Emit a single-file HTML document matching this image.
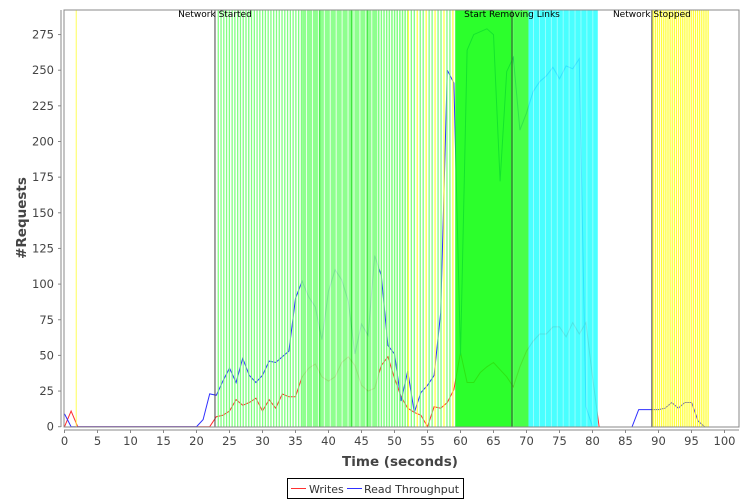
<!DOCTYPE html>
<html><head><meta charset="utf-8"><style>
body{margin:0;background:#fff;font-family:"DejaVu Sans","Liberation Sans",sans-serif;}
#wrap{position:relative;width:750px;height:500px;overflow:hidden}
</style></head><body>
<div id="wrap">
<svg id="svg" width="750" height="500" xmlns="http://www.w3.org/2000/svg"></svg>
</div>
<script>
// data (1-second samples)
const readThroughput = [9,0,0,0,0,0,0,0,0,0,0,0,0,0,0,0,0,0,0,0,0,5,23,22,32,41,31,48,36,31,36,46,45,49,53,90,102,91,84,61,95,110,103,88,51,72,64,120,106,57,51,18,39,10,24,29,36,80,250,241,50,264,275,277,279,275,172,249,259,208,220,235,242,246,252,244,253,251,258,14,0,null,null,null,null,null,0,12,12,12,12,13,17,13,17,17,4,0];
const writes = [0,11,0,0,0,0,0,0,0,0,0,0,0,0,0,0,0,0,0,0,0,0,0,7,8,11,19,15,17,20,11,19,13,23,21,21,35,41,44,35,32,35,45,49,43,29,25,27,43,49,34,21,13,10,8,0,14,13,17,26,52,31,31,38,42,45,40,35,28,42,53,60,65,65,70,70,63,73,65,73,35,0];
const yTicks = [0,25,50,75,100,125,150,175,200,225,250,275];
const xTicks = [0,5,10,15,20,25,30,35,40,45,50,55,60,65,70,75,80,85,90,95,100];
const events = [{t:22.8,label:"Network Started"},{t:67.8,label:"Start Removing Links"},{t:89.0,label:"Network Stopped"}];

const NS="http://www.w3.org/2000/svg";
const svg=document.getElementById('svg');
const X0=64.5,XS=6.6,Y0=426.7,YS=1.426;
const PL=64,PR=739,PT=10,PB=427;
const sx=t=>X0+t*XS, sy=v=>Y0-v*YS;
function el(tag,attrs,parent){const e=document.createElementNS(NS,tag);for(const k in attrs)e.setAttribute(k,attrs[k]);(parent||svg).appendChild(e);return e;}

const bg=el('rect',{x:PL,y:PT,width:PR-PL,height:PB-PT,fill:'#fff'});



function series(arr,color,name){
  let segs=[],cur=[];
  arr.forEach((v,i)=>{if(v===null){if(cur.length)segs.push(cur);cur=[];}else cur.push(sx(i).toFixed(1)+','+sy(v).toFixed(1));});
  if(cur.length)segs.push(cur);
  segs.forEach(s=>{
    const p=el('polyline',{points:s.join(' '),fill:'none',stroke:color,'stroke-width':1});
    
    
  });
}
series(writes,'#ff3030','writes-line');
series(readThroughput,'#3030ff','read-throughput-line');

const g=el('g',{opacity:0.88});


function stripe(t,c,w){el('rect',{x:sx(t),y:PT,width:w||1,height:PB-PT,fill:c},g);}
function block(t1,t2,c){el('rect',{x:sx(t1),y:PT,width:sx(t2)-sx(t1),height:PB-PT,fill:c},g);}
stripe(1.7,'#ffff40');
for(let t=23.2;t<36;t+=0.42) stripe(t,'#70ff70',1.3);
block(36,47.5,'#80ff80');
for(let t=36.6;t<47.5;t+=0.9) stripe(t,'#ffffff',0.8);
stripe(38.6,'#20e020',1);stripe(43.4,'#20e020',1);stripe(45.8,'#20e020',1);
for(let t=47.5;t<52;t+=0.4) stripe(t,'#70ff70',1.5);
for(let t=52;t<59.2;t+=0.45){const k=Math.round((t-52)/0.45)%3;stripe(t,k===0?'#ffff30':'#70ff70',1.3);}
block(59.2,68,'#10ff10');
block(68,70.3,'#30ff30');
block(70.3,80.8,'#30ffff');
for(let t=71;t<80.6;t+=0.9) stripe(t,'#aaffff',0.7);
for(let t=89.1;t<97.6;t+=0.32) stripe(t,'#ffff20',1.3);

events.forEach(e=>{
  const l=el('line',{x1:sx(e.t),x2:sx(e.t),y1:PT,y2:PB,stroke:'#444','stroke-width':1});
  
  
  const tx=el('text',{x:sx(e.t),y:PT+7,'text-anchor':'middle','font-size':9,fill:'#000'});
  tx.textContent=e.label;
  
  
});

el('rect',{x:PL,y:PT,width:PR-PL,height:PB-PT,fill:'none',stroke:'#888','stroke-width':1});
const ya=el('line',{x1:61,x2:61,y1:PT,y2:PB,stroke:'#888'});


const xa=el('line',{x1:PL,x2:PR,y1:430,y2:430,stroke:'#888'});


yTicks.forEach(v=>{
  el('line',{x1:58,x2:61,y1:sy(v),y2:sy(v),stroke:'#888'});
  const t=el('text',{x:54,y:sy(v)+4,'text-anchor':'end','font-size':11.5,fill:'#444'});
  t.textContent=v;
  
  
});
xTicks.forEach(v=>{
  el('line',{x1:sx(v),x2:sx(v),y1:430,y2:433,stroke:'#888'});
  const t=el('text',{x:sx(v),y:445,'text-anchor':'middle','font-size':11.5,fill:'#444'});
  t.textContent=v;
  
  
});
const xt=el('text',{x:400,y:466,'text-anchor':'middle','font-size':13.5,'font-weight':'bold',fill:'#444'});
xt.textContent='Time (seconds)';


const yt=el('text',{x:0,y:0,'text-anchor':'middle','font-size':13.5,'font-weight':'bold',fill:'#444',transform:'translate(26,218) rotate(-90)'});
yt.textContent='#Requests';



const lg=el('g',{});


el('rect',{x:287.5,y:478.5,width:176,height:20,fill:'#fff',stroke:'#000'},lg);
el('line',{x1:291,x2:306,y1:488.5,y2:488.5,stroke:'#ff3030'},lg);
const l1=el('text',{x:309,y:493,'font-size':11,fill:'#333'},lg);
l1.textContent='Writes';


el('line',{x1:347,x2:362,y1:488.5,y2:488.5,stroke:'#3030ff'},lg);
const l2=el('text',{x:364,y:493,'font-size':11,fill:'#333'},lg);
l2.textContent='Read Throughput';


</script>
</body></html>
